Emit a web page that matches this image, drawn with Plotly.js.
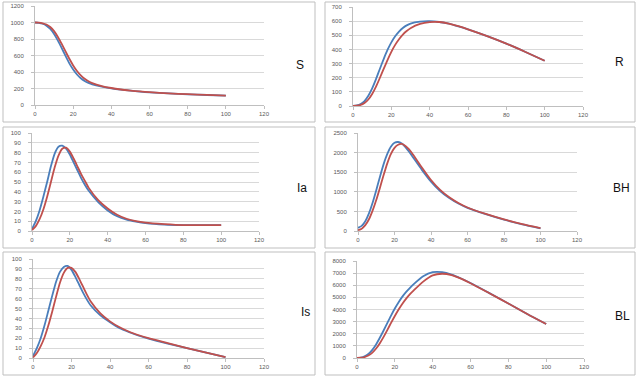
<!DOCTYPE html>
<html>
<head>
<meta charset="utf-8">
<script src="https://cdn.plot.ly/plotly-3.0.1.min.js"></script>
<style>
html,body{margin:0;padding:0;background:#fff;}
#chart{width:637px;height:379px;}
</style>
</head>
<body>
<div id="chart"></div>
<script>
// time points (days)
const t = [0,2,4,6,8,10,12,14,16,18,20,22,24,26,28,30,35,40,45,50,55,60,70,80,90,100];

// S
const sBlue = [1000,996,985,962,922,860,780,690,595,505,430,370,325,292,268,250,222,202,186,173,162,153,140,130,121,113];
const sRed  = [1000,998,990,975,945,895,825,740,650,560,480,412,358,318,288,266,230,206,188,175,164,155,141,131,122,114];
// R
const rBlue = [0,4,14,35,72,125,190,262,332,396,450,493,526,552,570,583,597,600,594,582,563,542,494,441,382,320];
const rRed  = [0,2,8,22,46,85,137,198,262,325,383,432,472,505,530,550,580,593,594,583,564,542,494,441,382,320];
// Ia
const iaBlue = [2,10,21,35,50,66,79,86,87,84,78,70,62,54,47,41,29.5,21,15,11.5,9.5,8,6.5,6,6,6];
const iaRed  = [1,5,12,22,35,50,65,77,84,85,81,74,66,58,51,44,31.5,23,16.5,12.5,10,8.5,7,6,6,6];
// BH
const bhBlue = [80,130,250,450,720,1040,1380,1700,1960,2150,2250,2270,2230,2140,2020,1890,1560,1260,1020,840,700,590,430,290,170,70];
const bhRed  = [20,60,150,300,520,790,1100,1420,1720,1960,2120,2200,2220,2170,2080,1960,1620,1300,1050,860,715,600,435,295,175,75];
// Is
const isBlue = [2,10,20,33,48,63,77,87,92,93,89,82,74,66,59,53,43,36,30,26,22.5,19.5,14.5,10,5.5,1];
const isRed  = [0.5,5,12,21,33,47,62,76,86,91,91,87,80,72,64,57,45,37,31,26.5,23,20,15,10,5.5,1];
// BL
const blBlue = [0,40,140,330,650,1100,1650,2250,2880,3500,4080,4600,5060,5450,5790,6100,6750,7080,7080,6880,6560,6180,5350,4500,3630,2800];
const blRed  = [0,20,80,200,420,760,1200,1720,2300,2900,3470,4000,4480,4900,5270,5580,6300,6820,6950,6840,6540,6170,5340,4500,3630,2800];

const panelNames = ["S","R","Ia","BH","Is","BL"];
const yMax = [1200,700,100,2500,100,8000];
const yStep = [200,100,10,500,10,1000];
const xTicks = [0,20,40,60,80,100,120];

const seriesBlue = [sBlue,rBlue,iaBlue,bhBlue,isBlue,blBlue];
const seriesRed  = [sRed,rRed,iaRed,bhRed,isRed,blRed];

const W = 637, H = 379;
const px = v => v / W;
const py = v => 1 - v / H;

// plot area pixel boxes [x0,x1,yTop,yBottom]
const areas = [
  [35,264,6,105],
  [353,583,7,106],
  [32,259,133,231],
  [358,577,133,231],
  [33,264,259,358],
  [357,584,261,358]
];
// panel border boxes [x0,y0,x1,y1]
const boxes = [
  [3,2,315,122],
  [325,2,635,122],
  [3,127,315,248],
  [325,127,635,248],
  [3,252,315,375],
  [325,252,635,375]
];
const labelPos = [[300,65],[619,62],[302,188],[621,188],[305,312],[622,316]];

const BLUE = "#4a7ebb", RED = "#c0504d";
const traces = [];
const layout = {
  width: W, height: H,
  margin: {l:0,r:0,t:0,b:0},
  paper_bgcolor: "#ffffff",
  plot_bgcolor: "#ffffff",
  showlegend: false,
  shapes: [],
  annotations: []
};
const tickFont = {family: "Liberation Sans, Arial, sans-serif", size: 6, color: "#595959"};

for (let i = 0; i < 6; i++) {
  const n = i === 0 ? "" : String(i + 1);
  const xa = "x" + n, ya = "y" + n;
  traces.push({x: t, y: seriesBlue[i], xaxis: xa, yaxis: ya, type: "scatter", mode: "lines",
    line: {color: BLUE, width: 1.8, shape: "spline", smoothing: 0.6}, hoverinfo: "skip"});
  traces.push({x: t, y: seriesRed[i], xaxis: xa, yaxis: ya, type: "scatter", mode: "lines",
    line: {color: RED, width: 1.8, shape: "spline", smoothing: 0.6}, hoverinfo: "skip"});
  const a = areas[i];
  layout["xaxis" + n] = {
    domain: [px(a[0]), px(a[1])], anchor: ya, range: [0,120],
    tickvals: xTicks, showgrid: false, zeroline: false,
    showline: true, linecolor: "#bfbfbf", linewidth: 1,
    ticks: "outside", ticklen: 3, tickcolor: "#bfbfbf",
    tickfont: tickFont, fixedrange: true
  };
  const yt = [];
  for (let v = 0; v <= yMax[i]; v += yStep[i]) yt.push(v);
  layout["yaxis" + n] = {
    domain: [py(a[3]), py(a[2])], anchor: xa, range: [0, yMax[i]],
    tickvals: yt, showgrid: true, gridcolor: "#d9d9d9", gridwidth: 1, zeroline: false,
    showline: true, linecolor: "#bfbfbf", linewidth: 1,
    ticks: "outside", ticklen: 3, tickcolor: "#bfbfbf",
    tickfont: tickFont, ticklabelstandoff: 6, fixedrange: true
  };
  const b = boxes[i];
  layout.shapes.push({type: "rect", xref: "paper", yref: "paper",
    x0: px(b[0]), x1: px(b[2]), y0: py(b[3]), y1: py(b[1]),
    line: {color: "#bfbfbf", width: 1}, fillcolor: "rgba(0,0,0,0)"});
  layout.annotations.push({xref: "paper", yref: "paper",
    x: px(labelPos[i][0]), y: py(labelPos[i][1]), text: panelNames[i], showarrow: false,
    xanchor: "center", yanchor: "middle",
    font: {family: "Liberation Sans, Arial, sans-serif", size: 12, color: "#111"}});
}

Plotly.newPlot("chart", traces, layout, {staticPlot: true, displayModeBar: false});
</script>
</body>
</html>
